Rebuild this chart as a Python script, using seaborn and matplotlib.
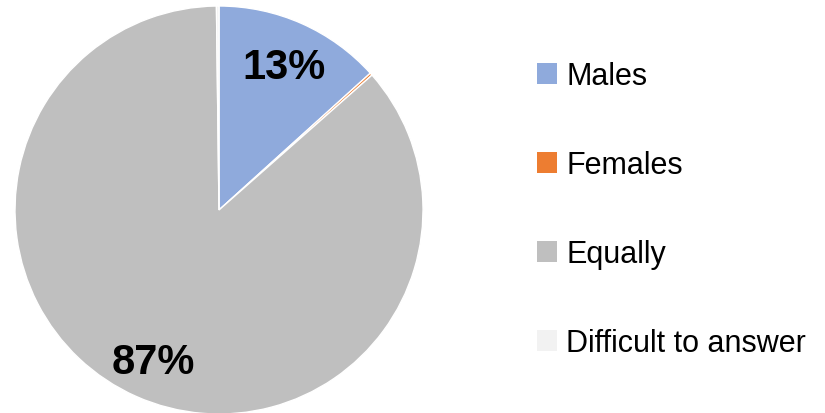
import matplotlib
matplotlib.use("Agg")
import matplotlib.pyplot as plt
import seaborn as sns

##
# Data
##
categories = ["Males", "Females", "Equally", "Difficult to answer"]
shares = [13.3, 0.2, 86.3, 0.2]
shown_labels = ["13%", "", "87%", ""]
colors = ["#8FAADC", "#ED7D31", "#BFBFBF", "#F2F2F2"]

sns.set_theme(style="white")
plt.rcParams["font.family"] = ["Liberation Sans", "DejaVu Sans"]

fig = plt.figure(figsize=(8.25, 4.14), dpi=100)
# pie axes: centre ~ (219, 211) px, radius ~204 px
ax = fig.add_axes([(219 - 204) / 825, (414 - 211 - 204) / 414, 408 / 825, 408 / 414])

wedges, texts, autotexts = ax.pie(
    shares,
    colors=colors,
    startangle=90,
    counterclock=False,
    radius=1.0,
    autopct=lambda p: "",
    pctdistance=0.79,
    wedgeprops={"edgecolor": "white", "linewidth": 1.0},
)
for t, lab in zip(autotexts, shown_labels):
    t.set_text(lab)
    t.set_fontsize(30)
    t.set_fontweight("bold")
    t.set_color("black")
    t.set_verticalalignment("center_baseline")

ax.set_xlim(-1, 1)
ax.set_ylim(-1, 1)
ax.set_aspect("equal")
ax.axis("off")

leg = fig.legend(
    wedges,
    categories,
    loc="upper left",
    bbox_to_anchor=(522 / 825, 1 - 47 / 414),
    frameon=False,
    fontsize=22,
    handlelength=0.65,
    handleheight=0.65,
    handletextpad=0.3,
    labelspacing=1.93,
    borderpad=0,
)
for h in leg.legend_handles:
    h.set_edgecolor("none")
for t in leg.get_texts():
    t.set_color("black")

fig.savefig("out.png", dpi=100)
